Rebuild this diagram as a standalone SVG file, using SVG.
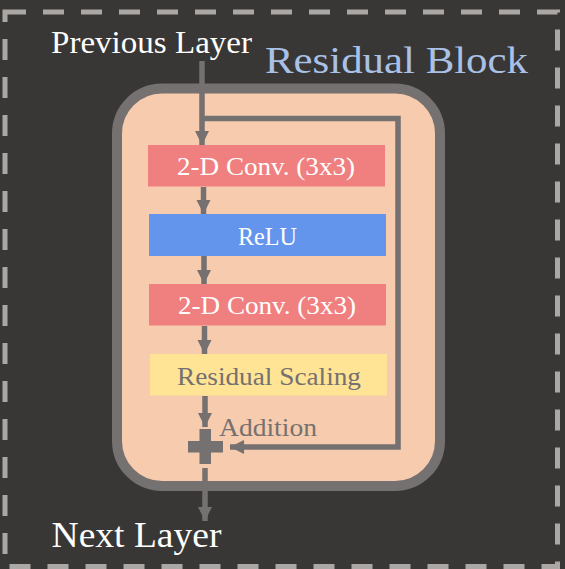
<svg xmlns="http://www.w3.org/2000/svg" width="565" height="569" viewBox="0 0 565 569">
  <defs>
    <style>
      .lbl { font-family: "Liberation Serif", "DejaVu Serif", serif; }
      .wire { stroke: #757170; stroke-width: 5.5; fill: none; }
      .box-text { font-size: 25px; text-anchor: middle; }
    </style>
    <marker id="ah" markerUnits="userSpaceOnUse" markerWidth="14" markerHeight="16" refX="14" refY="7" orient="auto">
      <path d="M0,0 L14,7 L0,14 Z" fill="#757170"/>
    </marker>
  </defs>
  <rect x="0" y="0" width="565" height="569" fill="#383735"/>
  <rect x="5" y="12" width="552.5" height="554.5" fill="none" stroke="#aba7a4" stroke-width="5" stroke-dasharray="21 17"/>

  <g id="block">
    <rect x="117" y="88.5" width="323" height="397.5" rx="45" ry="45" fill="#f7cbad" stroke="#757170" stroke-width="10"/>
    <text class="lbl" x="265" y="73" font-size="38" fill="#a9c1e6" textLength="263" lengthAdjust="spacingAndGlyphs">Residual Block</text>
  </g>

  <g id="prev">
    <text class="lbl" x="51" y="53" font-size="31" fill="#ffffff" textLength="201" lengthAdjust="spacingAndGlyphs">Previous Layer</text>
  </g>
  <g id="conv1">
    <rect x="148" y="145" width="237" height="41.5" fill="#f08080"/>
    <text class="lbl box-text" x="266" y="175" fill="#ffffff" textLength="178" lengthAdjust="spacingAndGlyphs">2-D Conv. (3x3)</text>
  </g>
  <g id="relu">
    <rect x="149" y="214" width="237" height="42" fill="#6495ed"/>
    <text class="lbl box-text" x="267.5" y="245" fill="#ffffff" textLength="59" lengthAdjust="spacingAndGlyphs">ReLU</text>
  </g>
  <g id="conv2">
    <rect x="149" y="284" width="237" height="41.5" fill="#f08080"/>
    <text class="lbl box-text" x="267" y="314" fill="#ffffff" textLength="178" lengthAdjust="spacingAndGlyphs">2-D Conv. (3x3)</text>
  </g>
  <g id="scaling">
    <rect x="150" y="354" width="237" height="41.5" fill="#ffe495"/>
    <text class="lbl box-text" x="269" y="385" fill="#757170" textLength="184" lengthAdjust="spacingAndGlyphs">Residual Scaling</text>
  </g>
  <g id="addition">
    <rect x="199.5" y="429" width="11.5" height="35" fill="#757170"/>
    <rect x="188" y="441" width="35" height="11.5" fill="#757170"/>
    <text class="lbl" x="219" y="436" font-size="25" fill="#757170" textLength="98" lengthAdjust="spacingAndGlyphs">Addition</text>
  </g>
  <g id="next">
    <text class="lbl" x="51.5" y="547" font-size="35" fill="#ffffff" textLength="170" lengthAdjust="spacingAndGlyphs">Next Layer</text>
  </g>

  <g id="connectors">
    <line class="wire" x1="202" y1="61" x2="202" y2="145" marker-end="url(#ah)"/>
    <polyline class="wire" points="202,118.5 398,118.5 398,447 230,447" marker-end="url(#ah)"/>
    <line class="wire" x1="203.5" y1="187" x2="203.5" y2="214" marker-end="url(#ah)"/>
    <line class="wire" x1="204" y1="256" x2="204" y2="284" marker-end="url(#ah)"/>
    <line class="wire" x1="204.5" y1="326" x2="204.5" y2="354" marker-end="url(#ah)"/>
    <line class="wire" x1="205" y1="396" x2="205" y2="427" marker-end="url(#ah)"/>
    <line class="wire" x1="205" y1="468" x2="205" y2="521" marker-end="url(#ah)"/>
  </g>
</svg>
